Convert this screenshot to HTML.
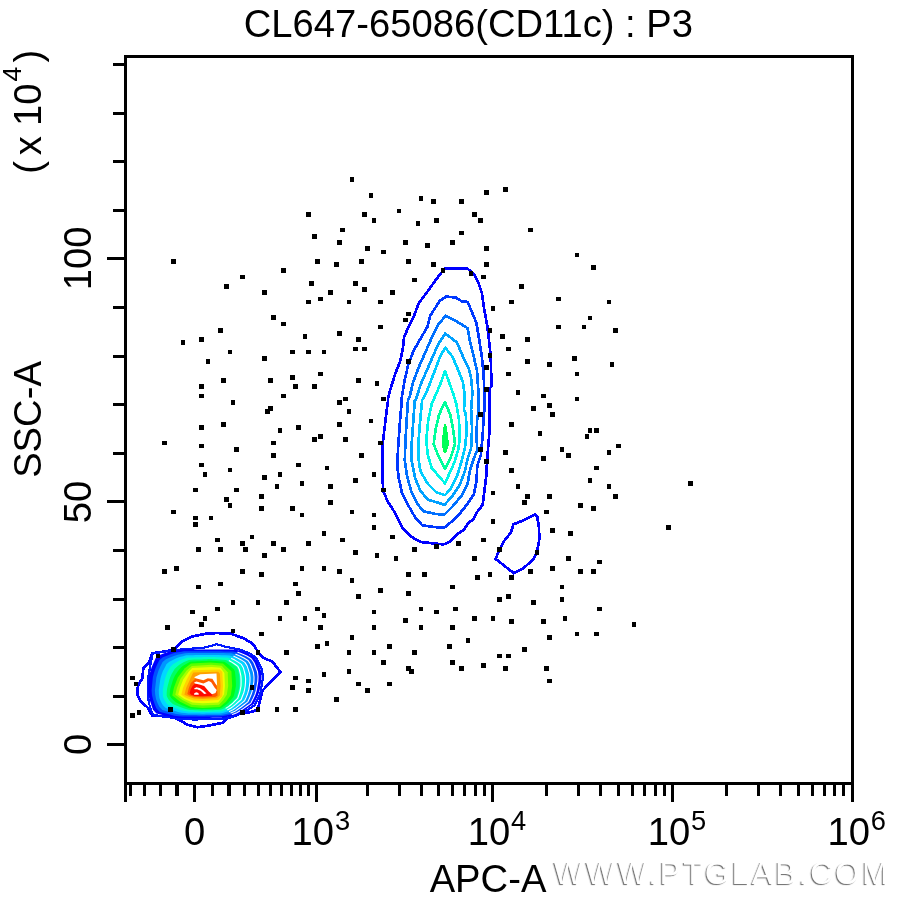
<!DOCTYPE html>
<html><head><meta charset="utf-8"><title>CL647-65086(CD11c) : P3</title>
<style>
html,body{margin:0;padding:0;background:#fff;}
body{width:900px;height:900px;overflow:hidden;}
svg{display:block;font-family:"Liberation Sans",Arial,sans-serif;}
.wm{fill:#fff;stroke:none;font-size:31px;}
</style></head><body>
<svg width="900" height="900" viewBox="0 0 900 900">
<rect width="900" height="900" fill="#fff"/>

<g stroke-linejoin="round" stroke-linecap="round">
<polygon points="217.1,633.0 231.3,633.9 243.8,638.3 252.7,643.7 258.0,651.7 263.3,657.9 272.2,661.4 280.6,672.1 270.4,681.9 262.4,690.8 259.8,701.4 258.0,709.4 250.9,712.1 242.0,713.0 234.9,715.7 226.9,718.3 222.4,722.8 210.0,725.4 197.6,727.2 186.9,724.6 179.8,720.1 170.9,716.6 152.2,715.7 147.8,707.7 140.7,701.4 137.1,694.3 138.0,685.4 142.4,678.3 143.3,668.6 148.7,663.2 152.2,653.4 173.6,649.9 181.6,641.9 192.2,636.6 204.7,633.9" fill="none" stroke="#0000ff" stroke-width="2.7" shape-rendering="crispEdges"/>
<polygon points="152.5,653.5 175.0,650.0 205.0,647.5 216.7,644.2 225.0,646.7 240.0,649.5 250.0,653.5 256.5,658.0 262.0,670.0 263.0,678.0 260.3,693.5 255.0,705.0 245.5,711.5 231.7,716.7 225.0,718.5 195.0,719.5 180.0,719.0 168.3,717.2 153.5,715.0 151.0,710.0 149.0,703.3 147.6,693.3 148.6,675.0 150.5,664.5" fill="none" stroke="#0018ff" stroke-width="2.2" shape-rendering="crispEdges"/>
<polygon points="260.4,686.0 259.5,690.9 258.0,695.5 255.8,699.9 253.7,704.1 249.3,707.1 245.4,709.9 241.5,712.3 237.9,714.5 233.7,715.7 229.6,716.5 225.8,717.2 222.4,717.8 218.8,717.8 215.6,717.8 212.5,717.8 209.6,717.9 206.8,717.9 204.0,717.9 201.2,717.9 198.4,717.9 195.4,717.9 192.4,717.9 189.1,717.9 185.5,718.0 181.6,718.0 177.2,717.9 172.4,717.6 167.9,716.3 162.6,715.0 156.4,713.5 153.0,709.8 151.4,705.1 149.9,700.5 148.5,695.8 148.0,690.9 148.3,686.0 148.7,681.2 149.0,676.3 150.3,671.6 151.7,667.0 153.7,662.5 155.7,658.1 159.7,655.0 164.8,653.1 169.5,651.5 174.1,650.4 178.7,649.9 182.8,649.4 186.9,649.3 190.7,649.3 194.2,649.3 197.5,649.4 200.8,649.4 204.0,649.4 207.2,649.4 210.5,649.4 213.8,649.4 217.3,649.4 221.0,649.4 225.1,649.5 229.6,649.5 234.6,649.5 239.5,650.5 244.4,652.1 249.3,654.3 254.1,657.1 257.0,661.3 259.1,666.0 261.0,670.7 261.5,675.9 261.3,681.0" fill="#0000ff" stroke="none"/>
<polygon points="256.5,686.0 255.7,690.5 254.3,694.9 252.4,699.0 250.4,702.9 246.5,705.8 242.9,708.4 239.4,710.8 236.0,712.9 232.2,714.2 228.4,715.0 224.8,715.8 221.5,716.3 218.2,716.4 215.1,716.4 212.1,716.4 209.4,716.4 206.7,716.5 204.0,716.5 201.3,716.5 198.6,716.5 195.8,716.5 192.9,716.5 189.8,716.5 186.4,716.5 182.7,716.4 178.7,716.2 174.3,715.7 170.1,714.5 165.2,713.2 159.5,711.7 156.3,708.3 154.6,704.0 153.1,699.6 152.0,695.2 151.6,690.6 152.0,686.0 152.4,681.5 152.9,677.0 154.1,672.6 155.5,668.3 157.3,664.2 159.3,660.2 162.9,657.2 167.5,655.4 171.8,653.8 176.0,652.6 180.2,652.0 184.0,651.3 187.8,651.3 191.4,651.3 194.7,651.3 197.9,651.3 201.0,651.3 204.0,651.3 207.0,651.2 210.1,651.2 213.3,651.2 216.6,651.3 220.2,651.3 224.0,651.4 228.2,651.4 233.0,651.5 237.5,652.5 241.9,654.2 246.4,656.3 250.8,659.0 253.5,662.9 255.2,667.4 256.9,671.8 257.4,676.6 257.2,681.3" fill="#0050ff" stroke="none"/>
<polygon points="252.8,686.0 252.1,690.2 250.8,694.3 249.1,698.1 247.4,701.8 243.8,704.6 240.6,707.1 237.4,709.4 234.3,711.4 230.7,712.7 227.2,713.7 223.9,714.5 220.7,715.0 217.5,715.0 214.6,715.0 211.8,715.1 209.1,715.1 206.5,715.1 204.0,715.2 201.4,715.2 198.9,715.2 196.2,715.1 193.4,715.1 190.4,715.1 187.2,715.0 183.8,714.9 180.0,714.6 176.0,714.0 172.1,712.8 167.6,711.5 162.4,710.0 159.3,706.8 157.5,702.9 156.0,698.9 155.2,694.6 154.9,690.3 155.4,686.0 155.9,681.8 156.4,677.6 157.6,673.6 158.9,669.6 160.7,665.8 162.6,662.1 165.9,659.3 170.0,657.5 173.9,655.9 177.7,654.7 181.5,653.9 185.1,653.2 188.7,653.1 192.0,653.1 195.2,653.1 198.2,653.0 201.1,653.0 204.0,653.0 206.9,653.0 209.8,652.9 212.9,652.9 216.0,653.0 219.4,653.0 223.0,653.1 227.0,653.2 231.4,653.3 235.5,654.5 239.6,656.1 243.7,658.2 247.7,660.7 250.1,664.5 251.7,668.7 253.1,672.8 253.5,677.3 253.4,681.7" fill="#0096ff" stroke="none"/>
<polygon points="248.6,686.0 247.9,689.8 246.8,693.6 245.4,697.1 244.0,700.5 240.8,703.2 237.9,705.6 235.1,707.7 232.2,709.7 229.1,711.1 225.9,712.1 222.9,713.0 219.8,713.4 216.8,713.4 214.0,713.5 211.4,713.5 208.9,713.6 206.4,713.6 204.0,713.7 201.6,713.7 199.1,713.6 196.6,713.6 194.0,713.5 191.2,713.5 188.2,713.4 185.0,713.1 181.6,712.7 178.0,712.0 174.4,710.8 170.3,709.6 165.8,708.1 162.9,705.2 160.9,701.7 159.4,697.9 158.9,694.0 158.8,690.0 159.3,686.0 159.9,682.1 160.5,678.3 161.6,674.6 162.9,671.1 164.7,667.7 166.4,664.3 169.3,661.7 172.9,659.9 176.3,658.3 179.7,657.1 183.1,656.2 186.3,655.3 189.7,655.2 192.8,655.2 195.7,655.1 198.6,655.1 201.3,655.0 204.0,655.0 206.7,655.0 209.5,654.9 212.3,654.9 215.3,655.0 218.4,655.1 221.8,655.2 225.5,655.3 229.7,655.4 233.3,656.7 236.9,658.4 240.6,660.4 244.2,662.8 246.3,666.3 247.6,670.1 248.7,674.0 249.1,678.0 249.0,682.1" fill="#00d7ff" stroke="none"/>
<polygon points="244.1,686.0 243.5,689.5 242.6,692.8 241.5,696.0 240.2,699.2 237.5,701.6 235.0,703.9 232.6,706.0 230.1,707.9 227.3,709.3 224.5,710.5 221.8,711.4 218.8,711.7 216.0,711.8 213.4,711.8 210.9,711.9 208.6,711.9 206.3,712.0 204.0,712.1 201.7,712.1 199.4,712.0 197.1,711.9 194.6,711.9 192.0,711.8 189.2,711.7 186.3,711.3 183.3,710.7 180.1,709.9 176.9,708.8 173.3,707.5 169.4,706.0 166.6,703.4 164.6,700.3 163.0,697.0 162.8,693.3 162.9,689.6 163.5,686.0 164.2,682.5 164.9,679.1 166.0,675.8 167.2,672.6 168.9,669.6 170.5,666.7 173.0,664.3 176.0,662.5 178.8,660.8 181.8,659.6 184.8,658.6 187.6,657.6 190.7,657.5 193.6,657.4 196.3,657.3 198.9,657.3 201.5,657.2 204.0,657.1 206.5,657.1 209.1,657.0 211.8,656.9 214.5,657.1 217.4,657.2 220.6,657.3 224.0,657.5 227.8,657.6 231.0,659.0 234.1,660.7 237.3,662.7 240.5,664.9 242.2,668.2 243.2,671.7 244.1,675.3 244.4,678.9 244.4,682.5" fill="#00ffc8" stroke="none"/>
<polygon points="239.5,686.0 239.0,689.1 238.3,692.1 237.5,695.0 236.5,697.8 234.3,700.1 232.2,702.3 230.1,704.3 227.9,706.0 225.5,707.5 223.2,708.8 220.6,709.8 217.9,710.0 215.2,710.1 212.8,710.2 210.5,710.2 208.3,710.3 206.1,710.4 204.0,710.4 201.9,710.5 199.7,710.4 197.5,710.3 195.2,710.2 192.8,710.1 190.2,710.0 187.6,709.4 185.0,708.7 182.2,707.8 179.4,706.7 176.2,705.5 172.9,703.9 170.4,701.7 168.2,699.0 166.7,696.0 166.7,692.6 167.0,689.2 167.7,686.0 168.5,682.9 169.3,679.9 170.3,677.0 171.5,674.2 173.1,671.6 174.6,669.0 176.7,666.9 179.0,665.1 181.4,663.4 184.0,662.1 186.5,661.0 188.9,659.9 191.8,659.7 194.4,659.6 196.9,659.6 199.3,659.5 201.7,659.4 204.0,659.3 206.3,659.2 208.7,659.1 211.2,659.0 213.8,659.2 216.4,659.3 219.3,659.5 222.4,659.7 225.9,659.9 228.6,661.4 231.3,663.1 234.0,665.0 236.7,667.1 238.2,670.1 238.8,673.3 239.4,676.5 239.6,679.7 239.7,682.9" fill="#00ff64" stroke="none"/>
<polygon points="235.9,686.0 235.4,688.8 234.9,691.4 234.3,694.1 233.5,696.7 231.6,698.9 229.9,700.9 228.1,702.9 226.1,704.6 224.1,706.1 222.0,707.5 219.7,708.5 217.1,708.6 214.6,708.7 212.3,708.8 210.1,708.9 208.1,709.0 206.0,709.1 204.0,709.1 202.0,709.2 199.9,709.0 197.9,708.9 195.7,708.8 193.4,708.7 191.0,708.6 188.6,708.0 186.3,707.1 183.9,706.1 181.4,705.0 178.6,703.8 175.8,702.3 173.5,700.2 171.2,698.0 169.6,695.2 169.9,692.0 170.3,688.9 171.1,686.0 172.0,683.2 172.8,680.5 173.8,677.9 175.0,675.4 176.5,673.2 178.0,671.0 179.7,669.0 181.5,667.1 183.5,665.5 185.7,664.2 187.9,662.9 190.0,661.7 192.6,661.6 195.1,661.5 197.4,661.3 199.6,661.2 201.8,661.1 204.0,661.0 206.2,660.9 208.4,660.8 210.8,660.7 213.1,660.9 215.6,661.1 218.3,661.3 221.2,661.5 224.4,661.7 226.7,663.3 229.0,665.1 231.3,666.9 233.7,668.9 234.9,671.6 235.2,674.6 235.6,677.5 235.8,680.4 235.9,683.2" fill="#00ff14" stroke="none"/>
<polygon points="191.0,663.6 210.4,662.4 222.9,663.6 231.4,671.3 232.2,686.1 230.7,695.4 226.0,701.7 219.8,707.1 202.7,707.9 191.0,707.1 180.1,701.7 172.3,695.4 173.9,687.7 177.8,677.6 184.8,668.2" fill="#5aff00"/>
<polygon points="191.8,665.9 211.2,664.7 221.7,665.7 227.7,672.3 228.2,686.1 226.8,694.7 223.3,700.1 219.0,704.8 202.7,705.6 191.8,704.8 182.4,700.1 175.3,694.8 177.0,687.7 180.5,678.7 186.7,670.4" fill="#a5ff00"/>
<polygon points="192.2,668.1 211.6,667.1 220.6,667.8 224.4,673.0 224.9,686.1 224.1,694.3 221.3,698.6 218.2,702.4 202.7,703.2 192.6,702.4 184.4,698.9 178.2,694.8 180.0,687.7 183.2,679.5 188.7,671.7" fill="#f0ff00"/>
<polygon points="192.6,670.2 219.8,669.4 222.3,671.7 223.0,686.1 222.3,696.2 218.2,700.1 202.7,701.0 193.3,700.5 186.3,697.9 181.3,694.8 183.1,687.7 186.5,679.9 190.6,672.5" fill="#ffd200"/>
<polygon points="193.3,672.5 218.2,671.7 219.9,673.7 220.6,686.1 219.8,695.4 216.7,698.2 202.7,698.9 194.1,698.6 188.3,696.6 184.4,694.7 186.2,687.7 189.4,680.7 192.2,674.4" fill="#ffa000"/>
<polygon points="193.3,680.7 195.7,678.3 203.4,680.3 207.7,678.2 212.4,678.7 216.7,685.3 217.6,695.4 215.1,697.0 202.7,697.4 194.5,697.0 189.8,695.4 187.3,693.9 188.7,688.4 190.8,683.0" fill="#ff5a00"/>
<polygon points="192.6,686.1 194.9,683.8 199.6,684.6 204.2,686.1 208.9,691.6 212.6,694.7 212.0,695.8 202.7,696.2 194.9,696.1 191.2,694.8 189.6,693.1 190.7,689.2" fill="#ff0a00"/>
<polygon points="194.1,677.3 200.3,674.2 216.5,673.4 217.1,685.7 215.5,683.8 212.4,678.7 207.7,678.2 203.4,680.3 195.7,678.3" fill="#fff"/>
<polygon points="194.1,682.6 196.4,681.4 203.4,683.4 208.9,681.1 211.2,682.2 214.7,687.7 216.7,690.0 215.5,693.1 212.0,694.3 208.9,691.6 204.2,686.1 199.6,684.6 194.9,683.4" fill="#fff"/>
<polygon points="194.1,688.4 196.4,687.3 199.6,688.1 203.4,690.4 206.6,693.5 204.2,693.9 200.7,690.8 197.2,689.2 194.5,689.2" fill="#fff"/>
<polygon points="194.1,693.5 196.1,692.3 198.4,693.1 198.8,694.7 194.1,694.7" fill="#fff"/>
<polyline points="237.8,652.2 242.3,653.9 246.8,656.0 251.2,658.7 254.0,662.7 255.8,667.2 257.5,671.7 258.0,676.5 257.8,681.3 257.0,686.0 256.2,690.6 254.8,695.0 252.9,699.1 250.9,703.1 246.9,706.0 243.2,708.6 239.7,711.0 236.3,713.1 232.4,714.4" fill="none" stroke="#fff" stroke-width="1.1"/>
<polyline points="235.8,654.2 239.9,655.9 244.0,658.0 248.1,660.5 250.5,664.3 252.1,668.5 253.5,672.7 254.0,677.2 253.9,681.6 253.2,686.0 252.5,690.2 251.2,694.3 249.5,698.2 247.8,701.9 244.1,704.7 240.8,707.3 237.6,709.5 234.5,711.6 230.9,712.9" fill="none" stroke="#fff" stroke-width="1.1"/>
<polyline points="233.8,656.2 237.5,657.9 241.2,659.9 244.9,662.4 247.1,665.9 248.4,669.8 249.6,673.8 250.0,677.9 249.9,682.0 249.4,686.0 248.7,689.9 247.6,693.7 246.2,697.3 244.6,700.8 241.4,703.4 238.4,705.9 235.5,708.1 232.6,710.0 229.4,711.4" fill="none" stroke="#fff" stroke-width="1.1"/>
<polyline points="231.6,658.4 234.8,660.1 238.1,662.1 241.4,664.4 243.3,667.7 244.3,671.3 245.2,675.0 245.6,678.7 245.5,682.4 245.2,686.0 244.6,689.6 243.7,693.0 242.4,696.3 241.2,699.5 238.3,702.0 235.7,704.3 233.2,706.4 230.6,708.3 227.7,709.7" fill="none" stroke="#fff" stroke-width="1.1"/>
<polyline points="229.3,660.7 232.2,662.4 235.0,664.3 237.9,666.4 239.4,669.5 240.2,672.8 240.9,676.1 241.1,679.5 241.1,682.8 241.0,686.0 240.4,689.2 239.7,692.3 238.7,695.3 237.7,698.3 235.3,700.6 233.1,702.8 230.9,704.8 228.6,706.6 226.1,708.1" fill="none" stroke="#fff" stroke-width="1.1"/>
</g>
<g fill="none" stroke-width="2.7" stroke-linejoin="round" shape-rendering="crispEdges">
<polygon points="444.4,268.7 467.6,268.7 473.8,274.0 478.2,282.0 481.8,292.7 484.4,310.4 487.1,324.7 488.9,338.9 490.7,356.7 491.2,374.4 491.2,387.0 489.4,388.5 489.8,400.0 489.8,426.7 488.4,444.4 487.1,460.4 486.2,476.4 484.4,490.7 482.7,504.9 476.4,512.9 473.8,519.1 468.4,522.7 464.0,529.8 456.0,535.1 450.7,541.3 443.6,544.4 434.7,543.6 420.4,541.9 411.6,536.9 402.7,528.0 395.6,513.8 387.6,501.3 383.1,490.7 382.2,467.6 382.8,442.7 385.8,417.8 388.1,400.0 388.1,397.6 391.1,386.9 395.6,372.7 400.0,362.0 402.7,349.6 404.1,337.1 408.0,328.2 413.3,317.6 418.7,303.3 426.7,292.7 431.1,286.4 438.2,276.7" stroke="#0000ff"/>
<polygon points="446.2,296.6 456.0,297.6 462.2,301.6 467.6,301.9 472.0,312.2 476.4,322.9 479.1,338.9 481.8,356.7 483.6,374.4 484.4,392.2 484.4,410.0 483.6,417.8 482.7,435.6 480.9,455.1 477.3,465.8 476.4,481.8 473.8,494.2 466.7,504.9 459.6,513.8 452.4,520.9 444.4,527.6 434.7,527.1 422.2,525.3 415.1,517.3 408.0,504.9 401.8,492.4 398.8,478.2 397.3,465.8 398.2,446.2 400.0,421.3 401.8,400.0 401.8,397.6 404.4,381.6 408.0,365.6 413.3,351.3 420.4,338.9 427.6,326.4 430.2,315.8 434.7,308.7 440.0,300.7" stroke="#0038ff"/>
<polygon points="445.7,315.8 456.0,321.1 467.6,328.2 470.2,342.4 473.8,356.7 477.0,370.9 478.2,388.7 478.8,410.0 477.3,417.8 476.4,435.6 477.3,449.8 473.8,458.7 470.2,469.3 467.6,483.6 461.3,496.0 452.4,506.7 444.4,514.7 434.7,513.8 423.1,511.1 416.9,503.1 411.6,492.4 407.1,476.4 404.8,460.4 405.3,444.4 406.6,421.3 408.0,400.0 409.4,397.6 413.3,381.6 418.7,367.3 425.8,351.3 432.0,337.1 438.2,324.7" stroke="#0070ff"/>
<polygon points="445.3,333.6 456.9,342.4 462.2,354.9 468.4,367.3 471.1,378.0 472.4,392.2 471.1,410.0 471.6,414.2 472.0,430.2 471.1,448.0 467.6,458.7 464.9,471.1 459.6,485.3 452.4,496.0 444.4,504.9 436.4,502.2 427.6,499.6 420.4,490.7 415.1,478.2 411.6,460.4 411.6,444.4 413.3,421.3 414.8,400.0 416.0,399.3 420.4,385.1 425.8,372.7 432.0,358.4 438.2,344.2" stroke="#00a0ff"/>
<polygon points="445.3,347.8 452.4,356.7 457.8,369.1 462.8,381.6 464.9,395.8 464.0,410.0 465.8,414.2 466.7,432.0 464.9,448.0 461.3,462.2 456.9,476.4 450.7,488.9 445.0,495.1 436.4,492.4 427.6,483.6 420.4,471.1 418.3,456.9 418.7,439.1 420.4,417.8 422.2,400.0 424.9,395.8 429.3,385.1 434.7,370.9 440.0,356.7" stroke="#00ccff"/>
<polygon points="445.0,370.9 448.9,381.6 453.3,394.0 456.3,404.0 459.0,420.0 459.7,438.7 458.3,449.3 454.3,462.7 445.0,483.3 431.7,468.0 427.7,454.7 426.3,440.0 428.3,420.0 431.7,404.0 436.3,393.3 440.0,385.1" stroke="#00f6e8"/>
<polygon points="445.0,402.0 450.3,414.7 453.3,430.7 455.0,444.0 451.0,456.7 445.0,468.7 438.3,456.0 433.7,444.0 435.4,430.7 439.0,414.7" stroke="#00ff9c"/>
<polygon points="445.0,425.5 446.4,434.0 447.6,444.0 445.0,452.0 442.9,443.5 444.0,434.0" stroke="#00ff58"/>
<polygon points="445.0,425.5 446.4,434.0 447.6,444.0 445.0,452.0 442.9,443.5 444.0,434.0" stroke="#00ff58" fill="#00ff58"/>
<polygon points="535.0,514.4 537.2,516.7 538.9,526.7 539.4,538.9 537.2,550.6 533.9,558.9 523.3,568.3 513.9,573.3 495.6,558.9 498.9,551.1 504.4,540.6 511.1,532.2 513.3,524.4 525.6,519.4" stroke="#0000ff"/>
</g>
<path d="M171.2 259.1h4.5v4.5h-4.5zM240.2 274.6h4.5v4.5h-4.5zM224.2 284.1h4.5v4.5h-4.5zM262.2 290.2h4.5v4.5h-4.5zM271.1 315.2h4.5v4.5h-4.5zM349.6 177.2h4.5v4.5h-4.5zM368.6 193.2h4.5v4.5h-4.5zM418.8 196.2h4.5v4.5h-4.5zM396.6 208.6h4.5v4.5h-4.5zM306.2 212.2h4.5v4.5h-4.5zM362.2 212.2h4.5v4.5h-4.5zM371.8 218.2h4.5v4.5h-4.5zM415.8 221.2h4.5v4.5h-4.5zM340.2 227.8h4.5v4.5h-4.5zM312.2 234.2h4.5v4.5h-4.5zM337.2 240.2h4.5v4.5h-4.5zM403.2 240.2h4.5v4.5h-4.5zM365.2 246.2h4.5v4.5h-4.5zM381.1 249.6h4.5v4.5h-4.5zM315.2 259.2h4.5v4.5h-4.5zM334.2 262.2h4.5v4.5h-4.5zM359.2 259.2h4.5v4.5h-4.5zM406.2 259.2h4.5v4.5h-4.5zM281.2 268.2h4.5v4.5h-4.5zM412.2 277.8h4.5v4.5h-4.5zM309.2 281.2h4.5v4.5h-4.5zM353.2 281.2h4.5v4.5h-4.5zM362.2 287.2h4.5v4.5h-4.5zM328.2 290.2h4.5v4.5h-4.5zM390.2 290.2h4.5v4.5h-4.5zM318.2 296.6h4.5v4.5h-4.5zM306.2 299.8h4.5v4.5h-4.5zM346.8 299.8h4.5v4.5h-4.5zM378.1 299.8h4.5v4.5h-4.5zM406.2 311.9h4.5v4.5h-4.5zM403.2 317.6h4.5v4.5h-4.5zM503.2 187.2h4.5v4.5h-4.5zM484.2 190.2h4.5v4.5h-4.5zM431.2 199.2h4.5v4.5h-4.5zM459.2 199.2h4.5v4.5h-4.5zM472.2 212.2h4.5v4.5h-4.5zM478.2 218.2h4.5v4.5h-4.5zM434.2 218.2h4.5v4.5h-4.5zM528.0 227.8h4.5v4.5h-4.5zM459.2 230.8h4.5v4.5h-4.5zM450.2 240.2h4.5v4.5h-4.5zM425.2 243.2h4.5v4.5h-4.5zM484.2 246.2h4.5v4.5h-4.5zM431.2 262.2h4.5v4.5h-4.5zM484.2 262.2h4.5v4.5h-4.5zM440.8 268.2h4.5v4.5h-4.5zM468.8 271.2h4.5v4.5h-4.5zM481.1 274.6h4.5v4.5h-4.5zM519.2 284.1h4.5v4.5h-4.5zM556.2 296.6h4.5v4.5h-4.5zM509.2 299.8h4.5v4.5h-4.5zM490.6 306.1h4.5v4.5h-4.5zM574.5 252.8h4.5v4.5h-4.5zM591.2 265.2h4.5v4.5h-4.5zM606.8 299.8h4.5v4.5h-4.5zM587.8 315.8h4.5v4.5h-4.5zM218.2 328.2h4.5v4.5h-4.5zM199.2 337.2h4.5v4.5h-4.5zM180.6 340.2h4.5v4.5h-4.5zM227.6 349.6h4.5v4.5h-4.5zM262.2 356.2h4.5v4.5h-4.5zM205.6 359.2h4.5v4.5h-4.5zM221.2 378.2h4.5v4.5h-4.5zM268.2 378.2h4.5v4.5h-4.5zM199.2 384.2h4.5v4.5h-4.5zM199.2 393.8h4.5v4.5h-4.5zM230.6 400.2h4.5v4.5h-4.5zM268.2 406.1h4.5v4.5h-4.5zM265.2 409.2h4.5v4.5h-4.5zM221.2 422.2h4.5v4.5h-4.5zM199.2 425.2h4.5v4.5h-4.5zM162.2 440.8h4.5v4.5h-4.5zM199.2 443.6h4.5v4.5h-4.5zM271.2 440.8h4.5v4.5h-4.5zM234.2 447.2h4.5v4.5h-4.5zM271.2 453.2h4.5v4.5h-4.5zM199.2 462.8h4.5v4.5h-4.5zM227.6 467.8h4.5v4.5h-4.5zM281.2 321.6h4.5v4.5h-4.5zM378.1 324.6h4.5v4.5h-4.5zM337.2 331.1h4.5v4.5h-4.5zM302.8 334.2h4.5v4.5h-4.5zM356.2 337.2h4.5v4.5h-4.5zM353.2 346.8h4.5v4.5h-4.5zM362.2 346.8h4.5v4.5h-4.5zM290.2 349.6h4.5v4.5h-4.5zM306.2 349.6h4.5v4.5h-4.5zM321.6 349.6h4.5v4.5h-4.5zM406.2 359.2h4.5v4.5h-4.5zM318.2 371.8h4.5v4.5h-4.5zM290.2 375.2h4.5v4.5h-4.5zM356.2 378.2h4.5v4.5h-4.5zM374.6 381.1h4.5v4.5h-4.5zM293.2 384.2h4.5v4.5h-4.5zM312.2 384.2h4.5v4.5h-4.5zM281.2 393.8h4.5v4.5h-4.5zM343.2 396.6h4.5v4.5h-4.5zM337.2 400.1h4.5v4.5h-4.5zM381.2 396.6h4.5v4.5h-4.5zM346.8 409.2h4.5v4.5h-4.5zM368.6 418.6h4.5v4.5h-4.5zM337.2 422.2h4.5v4.5h-4.5zM296.2 425.2h4.5v4.5h-4.5zM277.8 428.1h4.5v4.5h-4.5zM318.2 434.1h4.5v4.5h-4.5zM312.2 437.2h4.5v4.5h-4.5zM343.2 437.2h4.5v4.5h-4.5zM378.1 440.8h4.5v4.5h-4.5zM359.2 453.2h4.5v4.5h-4.5zM296.2 462.8h4.5v4.5h-4.5zM324.8 465.8h4.5v4.5h-4.5zM556.2 324.6h4.5v4.5h-4.5zM487.8 328.2h4.5v4.5h-4.5zM500.2 334.2h4.5v4.5h-4.5zM525.2 337.2h4.5v4.5h-4.5zM506.2 346.8h4.5v4.5h-4.5zM487.8 353.2h4.5v4.5h-4.5zM572.2 356.2h4.5v4.5h-4.5zM525.2 359.2h4.5v4.5h-4.5zM547.2 362.2h4.5v4.5h-4.5zM484.2 365.2h4.5v4.5h-4.5zM506.2 371.8h4.5v4.5h-4.5zM484.2 387.2h4.5v4.5h-4.5zM515.8 390.2h4.5v4.5h-4.5zM541.2 393.8h4.5v4.5h-4.5zM547.2 403.2h4.5v4.5h-4.5zM531.2 406.1h4.5v4.5h-4.5zM550.2 412.2h4.5v4.5h-4.5zM478.2 412.2h4.5v4.5h-4.5zM509.2 422.2h4.5v4.5h-4.5zM537.8 431.2h4.5v4.5h-4.5zM478.2 447.2h4.5v4.5h-4.5zM559.8 447.2h4.5v4.5h-4.5zM503.2 450.2h4.5v4.5h-4.5zM566.2 453.2h4.5v4.5h-4.5zM541.2 456.1h4.5v4.5h-4.5zM484.2 459.2h4.5v4.5h-4.5zM509.2 468.1h4.5v4.5h-4.5zM581.8 324.6h4.5v4.5h-4.5zM613.2 328.2h4.5v4.5h-4.5zM609.8 362.2h4.5v4.5h-4.5zM574.8 371.8h4.5v4.5h-4.5zM574.8 396.6h4.5v4.5h-4.5zM587.8 428.1h4.5v4.5h-4.5zM594.2 428.1h4.5v4.5h-4.5zM584.8 434.1h4.5v4.5h-4.5zM616.2 443.6h4.5v4.5h-4.5zM606.8 450.2h4.5v4.5h-4.5zM594.2 465.8h4.5v4.5h-4.5zM202.8 472.2h4.5v4.5h-4.5zM262.2 475.2h4.5v4.5h-4.5zM193.2 487.8h4.5v4.5h-4.5zM234.2 487.8h4.5v4.5h-4.5zM259.2 494.2h4.5v4.5h-4.5zM224.2 497.2h4.5v4.5h-4.5zM227.6 503.2h4.5v4.5h-4.5zM259.2 506.2h4.5v4.5h-4.5zM171.2 509.6h4.5v4.5h-4.5zM193.2 515.8h4.5v4.5h-4.5zM208.8 515.8h4.5v4.5h-4.5zM193.2 522.2h4.5v4.5h-4.5zM249.8 534.8h4.5v4.5h-4.5zM215.2 537.5h4.5v4.5h-4.5zM240.2 541.0h4.5v4.5h-4.5zM271.2 541.0h4.5v4.5h-4.5zM196.2 547.2h4.5v4.5h-4.5zM218.2 547.2h4.5v4.5h-4.5zM243.2 547.2h4.5v4.5h-4.5zM262.2 553.2h4.5v4.5h-4.5zM174.2 566.0h4.5v4.5h-4.5zM162.2 569.0h4.5v4.5h-4.5zM240.2 569.0h4.5v4.5h-4.5zM259.2 572.2h4.5v4.5h-4.5zM218.2 581.5h4.5v4.5h-4.5zM196.2 584.8h4.5v4.5h-4.5zM230.6 600.2h4.5v4.5h-4.5zM255.8 600.2h4.5v4.5h-4.5zM215.2 606.5h4.5v4.5h-4.5zM190.2 609.8h4.5v4.5h-4.5zM202.8 616.2h4.5v4.5h-4.5zM277.8 472.2h4.5v4.5h-4.5zM371.8 472.2h4.5v4.5h-4.5zM353.2 478.2h4.5v4.5h-4.5zM299.8 481.1h4.5v4.5h-4.5zM274.8 484.2h4.5v4.5h-4.5zM328.2 484.2h4.5v4.5h-4.5zM381.2 487.8h4.5v4.5h-4.5zM328.2 500.2h4.5v4.5h-4.5zM290.2 506.2h4.5v4.5h-4.5zM349.6 509.6h4.5v4.5h-4.5zM299.8 512.5h4.5v4.5h-4.5zM371.8 512.5h4.5v4.5h-4.5zM371.8 525.2h4.5v4.5h-4.5zM321.6 531.0h4.5v4.5h-4.5zM390.2 534.8h4.5v4.5h-4.5zM340.2 537.5h4.5v4.5h-4.5zM306.2 541.0h4.5v4.5h-4.5zM281.2 547.2h4.5v4.5h-4.5zM412.2 547.2h4.5v4.5h-4.5zM353.2 550.0h4.5v4.5h-4.5zM374.6 553.2h4.5v4.5h-4.5zM393.8 556.0h4.5v4.5h-4.5zM299.8 566.0h4.5v4.5h-4.5zM321.6 566.0h4.5v4.5h-4.5zM337.2 569.0h4.5v4.5h-4.5zM406.2 572.2h4.5v4.5h-4.5zM422.1 572.2h4.5v4.5h-4.5zM349.6 578.0h4.5v4.5h-4.5zM293.2 581.5h4.5v4.5h-4.5zM378.1 588.0h4.5v4.5h-4.5zM296.2 591.2h4.5v4.5h-4.5zM406.2 591.2h4.5v4.5h-4.5zM356.2 594.2h4.5v4.5h-4.5zM284.2 600.2h4.5v4.5h-4.5zM315.2 606.5h4.5v4.5h-4.5zM418.8 606.5h4.5v4.5h-4.5zM371.8 609.8h4.5v4.5h-4.5zM321.6 613.2h4.5v4.5h-4.5zM277.8 616.2h4.5v4.5h-4.5zM302.8 616.2h4.5v4.5h-4.5zM403.2 618.2h4.5v4.5h-4.5zM515.8 484.2h4.5v4.5h-4.5zM490.6 490.6h4.5v4.5h-4.5zM525.2 494.2h4.5v4.5h-4.5zM547.2 494.2h4.5v4.5h-4.5zM522.2 500.2h4.5v4.5h-4.5zM544.2 509.6h4.5v4.5h-4.5zM490.6 519.2h4.5v4.5h-4.5zM550.2 528.2h4.5v4.5h-4.5zM568.2 531.0h4.5v4.5h-4.5zM481.1 537.5h4.5v4.5h-4.5zM456.2 541.0h4.5v4.5h-4.5zM434.2 544.2h4.5v4.5h-4.5zM497.2 547.2h4.5v4.5h-4.5zM534.8 550.0h4.5v4.5h-4.5zM472.2 556.0h4.5v4.5h-4.5zM566.2 556.0h4.5v4.5h-4.5zM550.2 566.0h4.5v4.5h-4.5zM528.0 569.0h4.5v4.5h-4.5zM487.8 572.2h4.5v4.5h-4.5zM475.2 575.2h4.5v4.5h-4.5zM509.2 575.2h4.5v4.5h-4.5zM450.2 584.8h4.5v4.5h-4.5zM559.8 584.8h4.5v4.5h-4.5zM506.2 594.2h4.5v4.5h-4.5zM497.2 597.2h4.5v4.5h-4.5zM559.8 597.2h4.5v4.5h-4.5zM531.2 600.2h4.5v4.5h-4.5zM453.2 606.5h4.5v4.5h-4.5zM434.2 609.8h4.5v4.5h-4.5zM472.2 616.2h4.5v4.5h-4.5zM490.6 616.2h4.5v4.5h-4.5zM562.8 616.2h4.5v4.5h-4.5zM587.8 478.2h4.5v4.5h-4.5zM688.2 481.1h4.5v4.5h-4.5zM606.8 484.2h4.5v4.5h-4.5zM613.2 494.2h4.5v4.5h-4.5zM578.2 503.2h4.5v4.5h-4.5zM591.2 506.2h4.5v4.5h-4.5zM666.2 525.2h4.5v4.5h-4.5zM597.2 559.5h4.5v4.5h-4.5zM578.2 569.0h4.5v4.5h-4.5zM591.2 569.0h4.5v4.5h-4.5zM597.2 606.5h4.5v4.5h-4.5zM199.2 622.2h4.5v4.5h-4.5zM165.2 625.2h4.5v4.5h-4.5zM230.6 628.8h4.5v4.5h-4.5zM259.2 631.8h4.5v4.5h-4.5zM171.2 647.2h4.5v4.5h-4.5zM155.8 653.5h4.5v4.5h-4.5zM255.8 650.2h4.5v4.5h-4.5zM130.2 675.8h4.5v4.5h-4.5zM133.8 681.8h4.5v4.5h-4.5zM249.8 685.2h4.5v4.5h-4.5zM168.2 707.2h4.5v4.5h-4.5zM136.8 710.2h4.5v4.5h-4.5zM130.2 713.2h4.5v4.5h-4.5zM255.8 707.2h4.5v4.5h-4.5zM240.2 710.2h4.5v4.5h-4.5zM318.2 625.2h4.5v4.5h-4.5zM371.8 625.2h4.5v4.5h-4.5zM418.8 625.2h4.5v4.5h-4.5zM349.6 635.2h4.5v4.5h-4.5zM324.8 641.2h4.5v4.5h-4.5zM315.2 644.2h4.5v4.5h-4.5zM387.2 644.2h4.5v4.5h-4.5zM284.2 650.2h4.5v4.5h-4.5zM346.8 650.2h4.5v4.5h-4.5zM371.8 650.2h4.5v4.5h-4.5zM412.2 650.2h4.5v4.5h-4.5zM381.2 660.2h4.5v4.5h-4.5zM406.2 666.0h4.5v4.5h-4.5zM409.2 669.2h4.5v4.5h-4.5zM346.8 669.2h4.5v4.5h-4.5zM321.6 672.2h4.5v4.5h-4.5zM293.2 675.8h4.5v4.5h-4.5zM306.2 678.8h4.5v4.5h-4.5zM356.2 681.8h4.5v4.5h-4.5zM387.2 681.8h4.5v4.5h-4.5zM290.2 685.2h4.5v4.5h-4.5zM306.2 688.2h4.5v4.5h-4.5zM365.2 688.2h4.5v4.5h-4.5zM334.2 697.2h4.5v4.5h-4.5zM274.8 707.2h4.5v4.5h-4.5zM293.2 707.2h4.5v4.5h-4.5zM509.2 619.2h4.5v4.5h-4.5zM541.2 619.2h4.5v4.5h-4.5zM450.2 625.2h4.5v4.5h-4.5zM547.2 635.2h4.5v4.5h-4.5zM465.8 638.2h4.5v4.5h-4.5zM447.2 644.2h4.5v4.5h-4.5zM522.2 647.2h4.5v4.5h-4.5zM497.2 653.5h4.5v4.5h-4.5zM506.2 653.5h4.5v4.5h-4.5zM450.2 660.0h4.5v4.5h-4.5zM481.2 663.0h4.5v4.5h-4.5zM459.2 666.2h4.5v4.5h-4.5zM503.2 666.2h4.5v4.5h-4.5zM544.2 666.2h4.5v4.5h-4.5zM547.2 678.8h4.5v4.5h-4.5zM631.8 622.0h4.5v4.5h-4.5zM574.8 631.5h4.5v4.5h-4.5zM594.2 631.5h4.5v4.5h-4.5z" fill="#000" shape-rendering="crispEdges"/>
<g stroke="#000" stroke-width="3" fill="none" shape-rendering="crispEdges">
<rect x="125.5" y="56.5" width="727" height="727"/>
<path d="M125.5 783v19M852.5 783v19"/>
<path d="M107 744.5H125M107 501.5H125M107 258.5H125M113 696.5H125M113 647.5H125M113 599.5H125M113 550.5H125M113 453.5H125M113 404.5H125M113 356.5H125M113 307.5H125M113 210.5H125M113 161.5H125M113 113.5H125M113 64.5H125M194.5 784V802M316.2 784V802M492.3 784V802M672.3 784V802M130.5 784V796M144.5 784V796M160.5 784V796M212.5 784V796M244.5 784V796M258.5 784V796M270.5 784V796M281.5 784V796M291.5 784V796M300.5 784V796M308.5 784V796M367.4 784V796M399.2 784V796M421.5 784V796M438.5 784V796M452.5 784V796M464.3 784V796M475.3 784V796M484.3 784V796M546.3 784V796M578.3 784V796M600.9 784V796M618.4 784V796M632.6 784V796M644.6 784V796M655.0 784V796M664.2 784V796M726.4 784V796M758.0 784V796M780.5 784V796M798.0 784V796M812.2 784V796M824.2 784V796M834.6 784V796M843.8 784V796"/>
<path d="M176.8 784V796M228.8 784V796" stroke-width="4"/>
</g>
<g fill="#000" font-size="38.2px">
<text x="468.4" y="36.8" text-anchor="middle">CL647-65086(CD11c) : P3</text>
<text x="194.5" y="845.2" text-anchor="middle">0</text>
<text x="291.6" y="845.2">10</text>
<text x="335.0" y="829.8" font-size="27.3px">3</text>
<text x="467.7" y="845.2">10</text>
<text x="511.1" y="829.8" font-size="27.3px">4</text>
<text x="647.7" y="845.2">10</text>
<text x="691.1" y="829.8" font-size="27.3px">5</text>
<text x="827.4" y="845.2">10</text>
<text x="870.8" y="829.8" font-size="27.3px">6</text>
<text x="488" y="892" text-anchor="middle">APC-A</text>
<text transform="translate(91,744.3) rotate(-90)" text-anchor="middle">0</text>
<text transform="translate(91,502) rotate(-90)" text-anchor="middle">50</text>
<text transform="translate(91,258.3) rotate(-90)" text-anchor="middle">100</text>
<text transform="translate(40.8,419.5) rotate(-90)" text-anchor="middle">SSC-A</text>
<text transform="translate(41.2,173.8) rotate(-90)">(</text>
<text transform="translate(41.2,155.3) rotate(-90)">x</text>
<text transform="translate(41.2,126) rotate(-90)">10</text>
<text transform="translate(21,81.5) rotate(-90)" font-size="26.5px">4</text>
<text transform="translate(41.2,62.5) rotate(-90)">)</text>
</g>
<defs><filter id="emb" x="-5%" y="-20%" width="110%" height="140%"><feDropShadow dx="-1.2" dy="1.1" stdDeviation="0.75" flood-color="#6a6a6a" flood-opacity="0.9"/></filter></defs>
<text class="wm" x="554" y="884" filter="url(#emb)" textLength="334" lengthAdjust="spacing">WWW.PTGLAB.COM</text>
</svg></body></html>
